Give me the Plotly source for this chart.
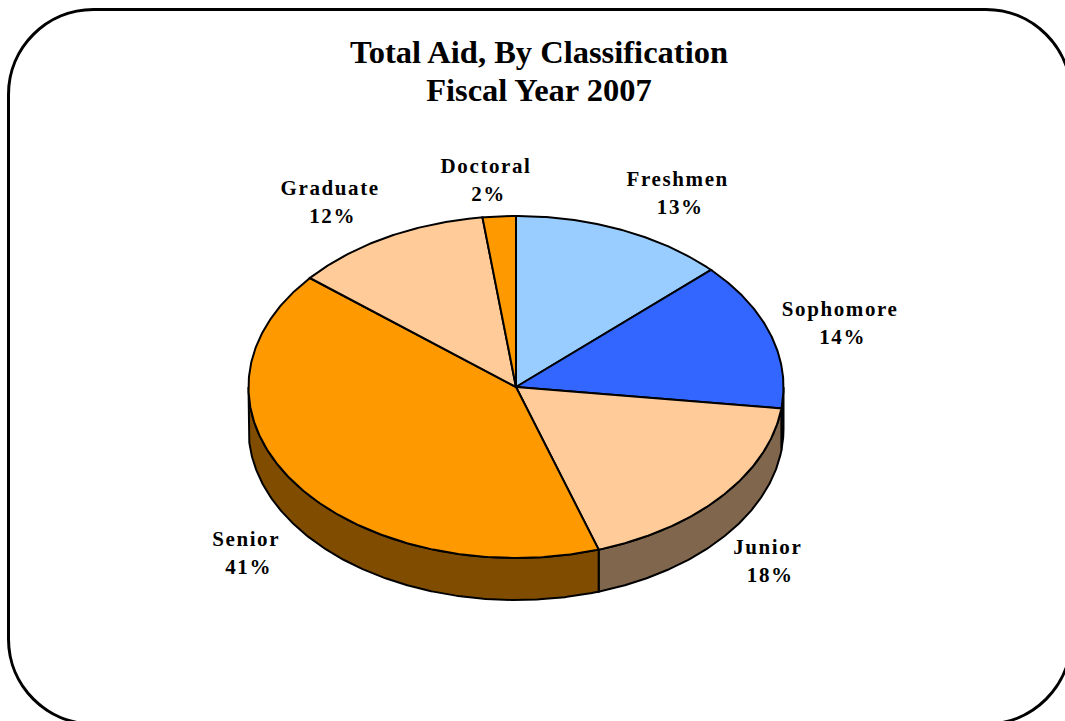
import math
import plotly.graph_objects as go

# Data
categories = ["Freshmen", "Sophomore", "Junior", "Senior", "Graduate", "Doctoral"]
values = [13, 14, 18, 41, 12, 2]

# Styles and layout
top_colors = ["#99CCFF", "#3366FF", "#FFCC99", "#FF9900", "#FFCC99", "#FF9900"]
side_colors = ["#4D6680", "#1A3380", "#80664D", "#804D00", "#80664D", "#804D00"]
label_centers = [(678, 192.5), (840, 322.5), (768, 560.5), (246, 552.5), (330, 201.5), (486, 179.5)]
CX, CY, RX, RY, DEPTH = 516, 387, 267.5, 171, 42
W, H = 1065, 721


def arc(a0, a1, dy=0):
    n = max(2, int(abs(a1 - a0) * 2) + 1)
    ts = [math.radians(a0 + (a1 - a0) * i / (n - 1)) for i in range(n)]
    return [CX + RX * math.sin(t) for t in ts], [CY + dy - RY * math.cos(t) for t in ts]


fig = go.Figure()
total = sum(values)
edges = [0]
for v in values:
    edges.append(edges[-1] + v / total * 360)

# Rim: only the part of each slice facing the viewer (90 to 270 degrees)
for i, name in enumerate(categories):
    a0, a1 = max(edges[i], 90), min(edges[i + 1], 270)
    if a1 <= a0:
        continue
    x1, y1 = arc(a0, a1)
    x2, y2 = arc(a1, a0, DEPTH)
    fig.add_trace(go.Scatter(x=x1 + x2 + [x1[0]], y=y1 + y2 + [y1[0]], mode="lines", fill="toself",
                             fillcolor=side_colors[i], line=dict(color="black", width=2),
                             hoverinfo="skip", showlegend=False))

# Top face
for i, name in enumerate(categories):
    xa, ya = arc(edges[i], edges[i + 1])
    fig.add_trace(go.Scatter(x=[CX] + xa + [CX], y=[CY] + ya + [CY], mode="lines", fill="toself",
                             fillcolor=top_colors[i], line=dict(color="black", width=2),
                             name=name, text=f"{name} {values[i]}%", hoverinfo="text", showlegend=False))

for name, v, (lx, ly) in zip(categories, values, label_centers):
    fig.add_annotation(x=lx, y=ly, xref="x", yref="y", text=f"<b>{name}<br>{v}%</b>", showarrow=False,
                       xanchor="center", yanchor="middle",
                       font=dict(family="Liberation Serif", size=21, color="black"))

# Rounded frame
L, T, R, B, r = 8.5, 9.5, 1071, 724, 85
k = r * 0.448
frame = (f"M{L + r},{T} L{R - r},{T} C{R - k},{T} {R},{T + k} {R},{T + r} "
         f"L{R},{B - r} C{R},{B - k} {R - k},{B} {R - r},{B} "
         f"L{L + r},{B} C{L + k},{B} {L},{B - k} {L},{B - r} "
         f"L{L},{T + r} C{L},{T + k} {L + k},{T} {L + r},{T} Z")
fig.add_shape(type="path", path=frame, xref="x", yref="y", line=dict(color="black", width=3), layer="below")

fig.update_layout(
    width=W, height=H, margin=dict(l=0, r=0, t=0, b=0),
    paper_bgcolor="white", plot_bgcolor="white",
    title=dict(text="<b>Total Aid, By Classification<br>Fiscal Year 2007</b>",
               x=539 / W, xanchor="center", y=1 - 63 / H, yanchor="middle",
               font=dict(family="Liberation Serif", size=32.5, color="black")),
    xaxis=dict(range=[0, W], visible=False, fixedrange=True),
    yaxis=dict(range=[H, 0], visible=False, fixedrange=True),
)

post = """
document.body.style.margin = '0';
document.querySelectorAll('.gtitle tspan.line').forEach(function (t, i) { if (i > 0) t.setAttribute('dy', '38px'); });
document.querySelectorAll('.annotation-text').forEach(function (t) {
  t.style.letterSpacing = '1.6px';
  t.querySelectorAll('tspan.line').forEach(function (s, i) {
    if (i > 0) { s.setAttribute('dy', '27.5px'); s.setAttribute('dx', '2.5'); }
  });
});
"""
fig.write_html("out.html", post_script=post, config=dict(displayModeBar=False))
